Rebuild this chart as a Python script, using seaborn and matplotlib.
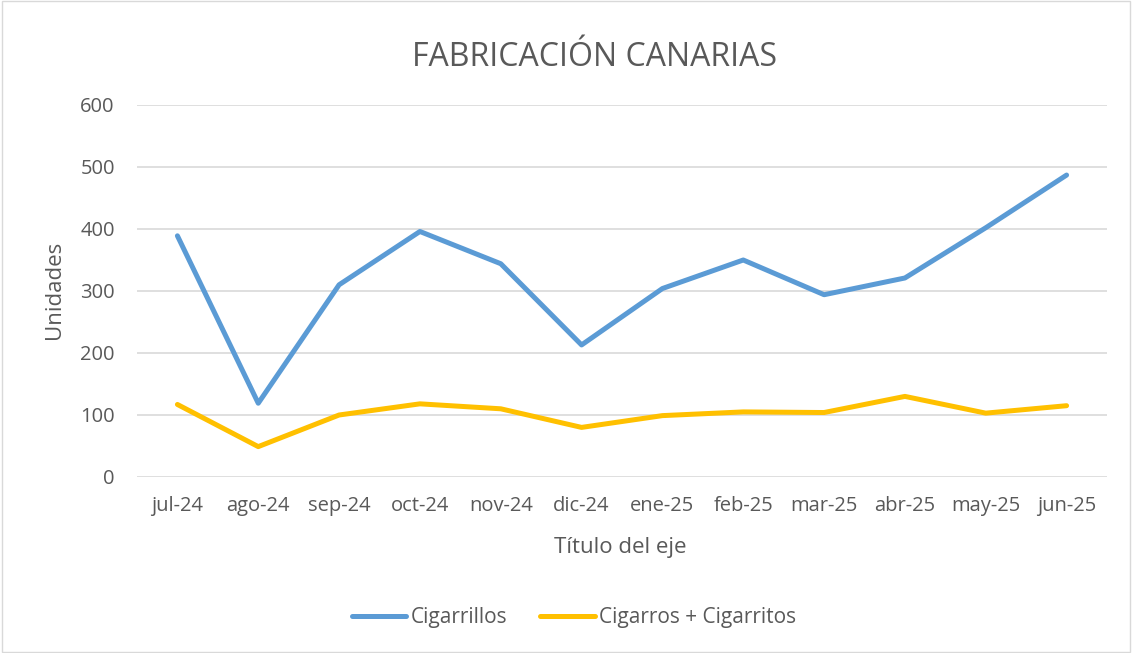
import matplotlib
matplotlib.use("Agg")
import matplotlib.pyplot as plt
import seaborn as sns
import pandas as pd
from matplotlib.patches import Rectangle

months = ["jul-24", "ago-24", "sep-24", "oct-24", "nov-24", "dic-24",
          "ene-25", "feb-25", "mar-25", "abr-25", "may-25", "jun-25"]
cigarrillos = [389, 119, 310, 396, 344, 213, 304, 350, 294, 321, 402, 487]
cigarros = [117, 49, 100, 118, 110, 80, 99, 105, 104, 130, 103, 115]
series_names = ["Cigarrillos", "Cigarros + Cigarritos"]
yticks = [0, 100, 200, 300, 400, 500, 600]

sns.set_theme(style="white")
plt.rcParams['font.family'] = ['Open Sans', 'DejaVu Sans']

df = pd.DataFrame({
    "mes": months * 2,
    "valor": cigarrillos + cigarros,
    "serie": [series_names[0]] * len(months) + [series_names[1]] * len(months),
})

W, H = 1132, 653
fig = plt.figure(figsize=(W / 100, H / 100), dpi=100)
L, R, T, B = 137, 1107, 105, 477
ax = fig.add_axes([L / W, 1 - B / H, (R - L) / W, (B - T) / H])

grey = "#595959"
for y in yticks:
    ax.axhline(y, color="#d9d9d9", lw=1.2, zorder=0)

sns.lineplot(data=df, x="mes", y="valor", hue="serie", sort=False,
             palette=["#5B9BD5", "#FFC000"], linewidth=3.6, ax=ax, legend=True)

ax.set_ylim(0, 600)
ax.set_xlim(-0.5, len(months) - 0.5)
ax.set_yticks(yticks)
ax.set_yticklabels([str(v) for v in yticks])
for s in ax.spines.values():
    s.set_visible(False)
ax.tick_params(axis="both", length=0, labelsize=14.5, colors=grey)
ax.tick_params(axis="y", pad=16)
ax.tick_params(axis="x", pad=14)

ax.set_xlabel("Título del eje", fontsize=16, color=grey, va="center")
ax.xaxis.set_label_coords((620 - L) / (R - L), -(548 - B) / (B - T))
ax.set_ylabel("Unidades", fontsize=16, color=grey, va="center")
ax.yaxis.set_label_coords((54 - L) / (R - L), (B - 290) / (B - T))

fig.text(594 / W, 1 - 57 / H, "FABRICACIÓN CANARIAS", fontsize=23, color=grey,
         ha="center", va="center")

handles, labels = ax.get_legend_handles_labels()
ax.legend(handles, labels, loc="center",
          bbox_to_anchor=((574 - L) / (R - L), -(618 - B) / (B - T)),
          ncol=2, frameon=False, fontsize=15, labelcolor=grey, handlelength=2.6,
          columnspacing=1.6, handletextpad=0.2)

fig.patches.append(Rectangle((0.002, 0.002), 0.996, 0.996, transform=fig.transFigure,
                             fill=False, edgecolor="#d9d9d9", lw=1))

fig.savefig("out.png", dpi=100)
